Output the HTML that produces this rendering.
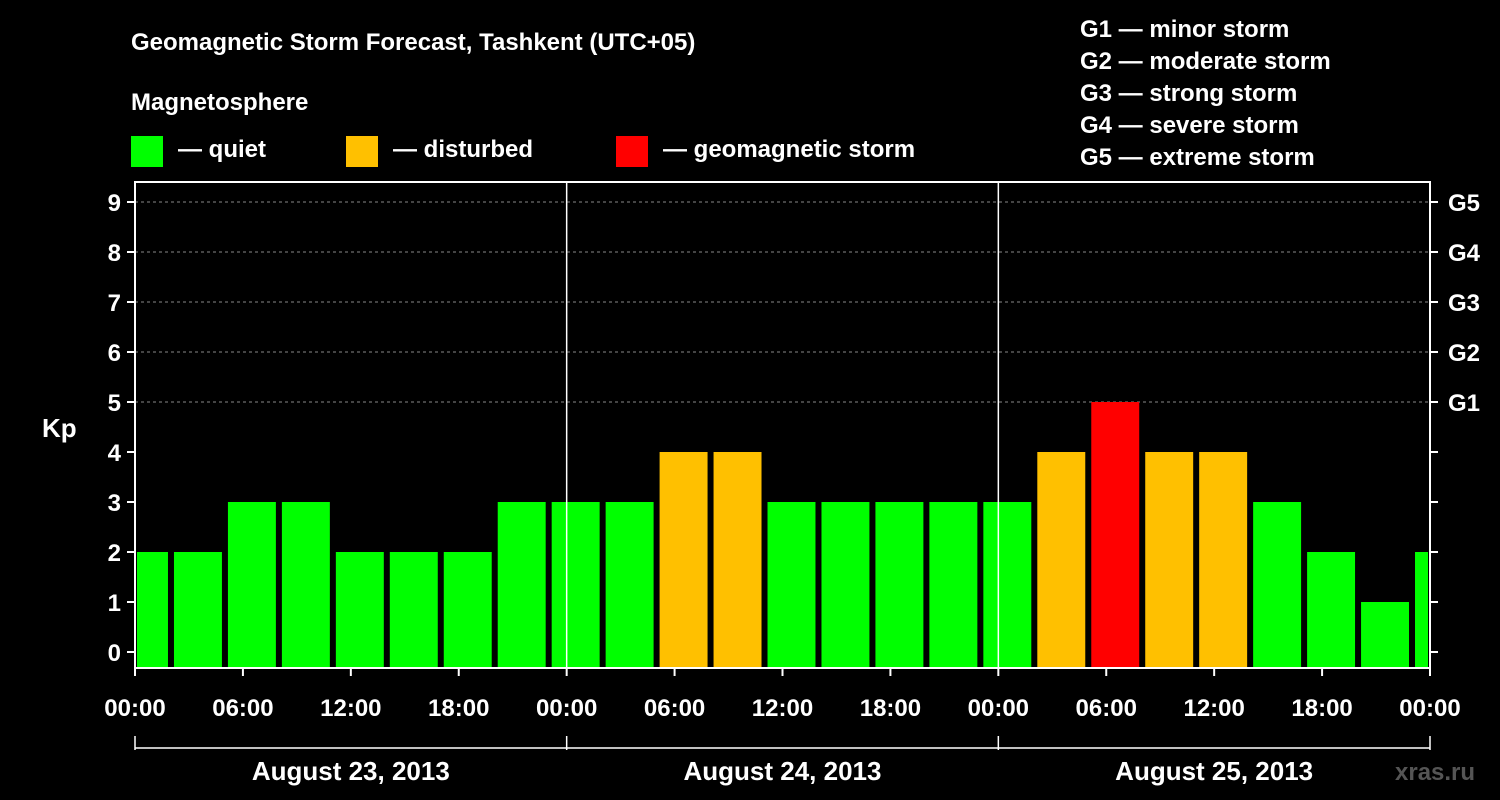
<!DOCTYPE html>
<html><head><meta charset="utf-8"><style>
body{margin:0;background:#000;}
svg{display:block;font-family:"Liberation Sans",Arial,sans-serif;font-weight:bold;}
</style></head><body>
<svg id="c" width="1500" height="800">
<rect width="1500" height="800" fill="#000"/>
<text x="131" y="50" fill="#fff" font-size="24">Geomagnetic Storm Forecast, Tashkent (UTC+05)</text>
<text x="131" y="110" fill="#fff" font-size="24">Magnetosphere</text>
<g><rect x="131" y="136" width="32" height="31" fill="#00ff00"/><text x="178" y="157" fill="#fff" font-size="24">— quiet</text></g>
<g><rect x="346" y="136" width="32" height="31" fill="#ffc000"/><text x="393" y="157" fill="#fff" font-size="24">— disturbed</text></g>
<g><rect x="616" y="136" width="32" height="31" fill="#ff0000"/><text x="663" y="157" fill="#fff" font-size="24">— geomagnetic storm</text></g>
<g fill="#fff" font-size="24">
<text x="1080" y="37">G1 — minor storm</text>
<text x="1080" y="69">G2 — moderate storm</text>
<text x="1080" y="101">G3 — strong storm</text>
<text x="1080" y="133">G4 — severe storm</text>
<text x="1080" y="165">G5 — extreme storm</text>
</g>
<text x="42" y="437" fill="#fff" font-size="26">Kp</text>
<text x="1395" y="780" fill="#555" font-size="24">xras.ru</text>
<g id="plot"></g>
</svg>
<script>
const values=[2,2,3,3,2,2,2,3,3,3,4,4,3,3,3,3,3,4,5,4,4,3,2,1,2];
const startHour=-1; // local start hour of first 3h interval
const yTicks=[0,1,2,3,4,5,6,7,8,9];
const gLabels=["","","","","","G1","G2","G3","G4","G5"];
const xTickLabels=["00:00","06:00","12:00","18:00","00:00","06:00","12:00","18:00","00:00","06:00","12:00","18:00","00:00"];
const dayLabels=["August 23, 2013","August 24, 2013","August 25, 2013"];
const L=135,R=1430,T=182,B=668;
const xs=h=>L+h*(R-L)/72;
const ys=v=>652-v*50;
const NS="http://www.w3.org/2000/svg";
const g=document.getElementById('plot');
function mk(tag,a,parent){const e=document.createElementNS(NS,tag);for(const k in a)e.setAttribute(k,a[k]);(parent||g).appendChild(e);return e;}
function col(v){return v>=5?"#ff0000":v>=4?"#ffc000":"#00ff00";}
// grid
yTicks.forEach(v=>{if(v>=5){const l=mk('line',{x1:L,x2:R,y1:ys(v),y2:ys(v),stroke:'#888','stroke-dasharray':'3,3','stroke-width':1});

}});
// bars
values.forEach((v,i)=>{const h0=startHour+3*i;let x0=xs(h0)+3,x1=xs(h0+3)-3;x0=Math.max(x0,L+2);x1=Math.min(x1,R-2);
const r=mk('rect',{x:x0,y:ys(v),width:x1-x0,height:B-ys(v),fill:col(v)});

});
// day separators
[1,2].forEach(d=>{const l=mk('line',{x1:xs(24*d),x2:xs(24*d),y1:T,y2:B,stroke:'#fff','stroke-width':1.5});

});
// frame
const fr=mk('rect',{x:L,y:T,width:R-L,height:B-T,fill:'none',stroke:'#fff','stroke-width':2});


// y ticks
yTicks.forEach((v,i)=>{const y=ys(v);
mk('line',{x1:L-8,x2:L,y1:y,y2:y,stroke:'#fff','stroke-width':2});
mk('line',{x1:R,x2:R+8,y1:y,y2:y,stroke:'#fff','stroke-width':2});
const t=mk('text',{x:L-14,y:y+9,fill:'#fff','font-size':24,'text-anchor':'end'});t.textContent=v;


if(gLabels[i]){const t2=mk('text',{x:R+18,y:y+9,fill:'#fff','font-size':24});t2.textContent=gLabels[i];

}});
// x ticks
xTickLabels.forEach((s,i)=>{const x=xs(6*i);
mk('line',{x1:x,x2:x,y1:B,y2:B+8,stroke:'#fff','stroke-width':2});
const t=mk('text',{x:x,y:716,fill:'#fff','font-size':24,'text-anchor':'middle'});t.textContent=s;

});
// day bracket
mk('line',{x1:L,x2:R,y1:748,y2:748,stroke:'#fff','stroke-width':1.5});
[0,1,2,3].forEach(d=>mk('line',{x1:xs(24*d),x2:xs(24*d),y1:736,y2:750,stroke:'#fff','stroke-width':1.5}));
dayLabels.forEach((s,i)=>{const t=mk('text',{x:xs(24*i+12),y:780,fill:'#fff','font-size':26,'text-anchor':'middle'});t.textContent=s;

});
</script>
</body></html>
